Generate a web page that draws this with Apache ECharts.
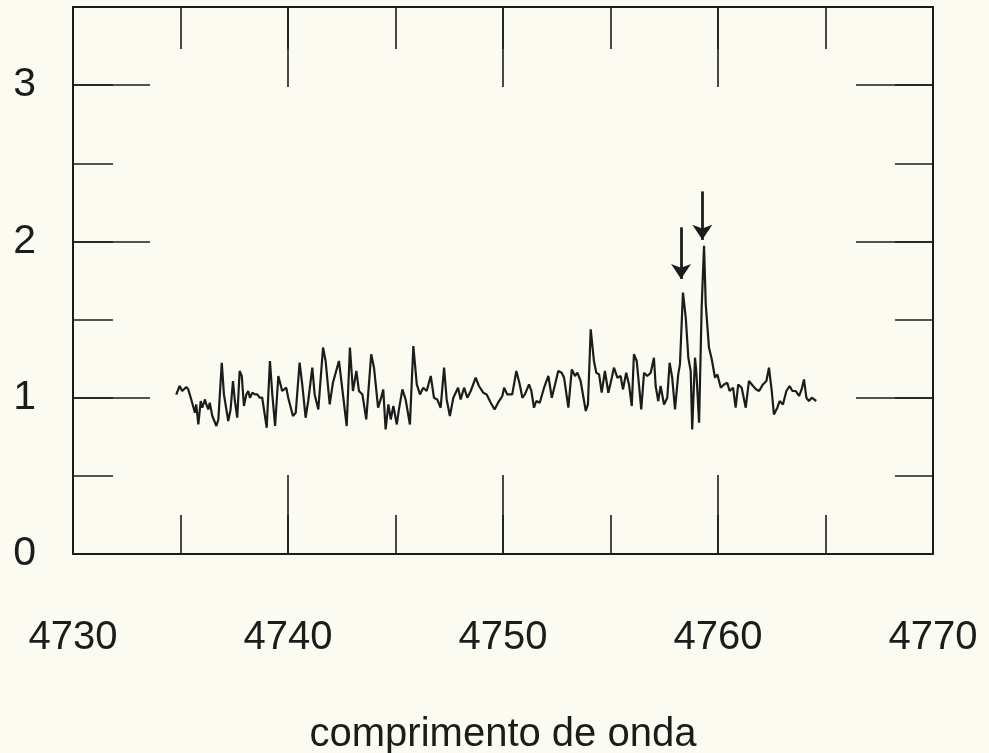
<!DOCTYPE html>
<html>
<head>
<meta charset="utf-8">
<script src="https://cdn.jsdelivr.net/npm/echarts@6/dist/echarts.min.js"></script>
<style>
html,body{margin:0;padding:0;background:#fcfbf2;}
#chart{width:989px;height:753px;}
</style>
</head>
<body>
<div id="chart"></div>
<script>
// wavelength (x) and relative intensity (y)
const wavelength = [
4734.80,4734.96,4735.08,4735.27,4735.36,4735.52,4735.67,4735.73,4735.83,4735.94,
4736.01,4736.14,4736.20,4736.29,4736.36,4736.48,4736.56,4736.67,4736.76,4736.92,
4737.02,4737.22,4737.33,4737.44,4737.53,4737.64,4737.75,4737.85,4737.95,4738.06,
4738.15,4738.23,4738.34,4738.47,4738.57,4738.68,4738.80,4739.01,4739.16,4739.27,
4739.40,4739.55,4739.73,4739.92,4740.01,4740.23,4740.36,4740.54,4740.67,4740.82,
4740.94,4741.13,4741.24,4741.41,4741.63,4741.75,4741.94,4742.09,4742.37,4742.73,
4742.88,4743.02,4743.18,4743.30,4743.46,4743.64,4743.87,4744.00,4744.19,4744.31,
4744.43,4744.54,4744.67,4744.78,4744.90,4745.06,4745.16,4745.32,4745.47,4745.67,
4745.83,4745.99,4746.14,4746.29,4746.45,4746.64,4746.79,4746.94,4747.10,4747.26,
4747.38,4747.53,4747.69,4747.91,4748.03,4748.19,4748.34,4748.50,4748.73,4748.88,
4749.08,4749.24,4749.43,4749.61,4749.77,4749.97,4750.05,4750.20,4750.43,4750.62,
4750.78,4750.90,4751.02,4751.21,4751.32,4751.44,4751.55,4751.71,4751.91,4752.11,
4752.27,4752.42,4752.57,4752.73,4752.84,4753.04,4753.20,4753.35,4753.46,4753.61,
4753.85,4753.95,4754.08,4754.23,4754.34,4754.47,4754.59,4754.74,4754.90,4755.06,
4755.16,4755.32,4755.47,4755.58,4755.73,4755.86,4755.99,4756.09,4756.22,4756.33,
4756.43,4756.56,4756.71,4756.87,4757.02,4757.10,4757.22,4757.33,4757.49,4757.64,
4757.75,4757.87,4758.00,4758.15,4758.23,4758.37,4758.50,4758.62,4758.73,4758.80,
4758.93,4758.99,4759.12,4759.24,4759.35,4759.43,4759.58,4759.71,4759.86,4759.97,
4760.13,4760.28,4760.43,4760.54,4760.70,4760.82,4760.94,4761.10,4761.29,4761.44,
4761.63,4761.78,4761.91,4762.09,4762.25,4762.37,4762.50,4762.60,4762.76,4762.87,
4763.02,4763.18,4763.33,4763.46,4763.61,4763.77,4763.89,4764.00,4764.11,4764.23,
4764.36,4764.47,4764.57
];
const intensity = [
1.02,1.075,1.043,1.069,1.053,0.979,0.904,0.957,0.829,0.979,
0.936,0.989,0.957,0.925,0.968,0.883,0.872,0.819,0.861,1.224,
1.021,0.851,0.925,1.107,0.979,0.872,1.171,1.139,0.947,1.021,
1.043,1.00,1.032,1.021,1.021,1.00,1.00,0.808,1.235,1.021,
0.819,1.139,1.043,1.064,1.00,0.883,0.904,1.224,1.075,0.872,
0.979,1.192,1.021,0.925,1.321,1.235,0.957,1.096,1.235,0.819,
1.321,1.043,1.171,1.043,1.021,0.861,1.278,1.192,0.936,0.989,
1.053,0.797,0.957,0.861,0.947,0.829,0.925,1.053,0.989,0.829,
1.331,1.085,1.021,1.064,1.043,1.139,1.00,0.989,0.936,1.192,
0.989,0.883,1.00,1.064,0.989,1.064,1.00,1.043,1.128,1.075,
1.032,1.021,0.968,0.925,0.968,1.011,1.064,1.021,1.021,1.171,
1.085,1.00,1.021,1.085,1.043,0.936,0.979,0.968,1.064,1.139,
1.00,1.085,1.171,1.160,1.128,0.936,1.181,1.139,1.160,1.107,
0.915,0.957,1.438,1.235,1.160,1.149,1.032,1.171,1.032,1.128,
1.192,1.128,1.139,1.053,1.160,1.085,0.947,1.278,1.235,1.075,
0.925,1.160,1.139,1.160,1.256,1.075,0.979,1.075,0.957,1.00,
1.224,1.128,0.925,1.149,1.213,1.673,1.513,1.256,1.171,0.797,
1.256,1.171,0.840,1.577,1.972,1.598,1.321,1.246,1.128,1.149,
1.064,1.085,1.096,1.043,1.064,0.936,1.085,1.064,0.936,1.107,
1.075,1.053,1.043,1.085,1.107,1.192,1.043,0.893,0.936,0.979,
0.957,1.043,1.075,1.043,1.043,1.011,1.053,1.117,1.00,0.979,
1.00,0.989,0.979
];
// arrows marking the two emission lines
const arrowX = [4758.28, 4759.27];
const arrowTop = [2.09, 2.32];
const arrowTip = [1.76, 2.01];

const xTickLabels = [4730, 4740, 4750, 4760, 4770];
const yTickLabels = [0, 1, 2, 3];
const xName = 'comprimento de onda';

const FONT = "'Liberation Sans', Arial, Helvetica, sans-serif";
const INK = '#1c1c1c';

const chart = echarts.init(document.getElementById('chart'), null, {renderer: 'canvas'});

function xAx(grid, pos, interval, tickLen, labels, line) {
  return {
    type: 'value', gridIndex: grid, position: pos,
    min: 4730, max: 4770, interval: interval,
    axisLine: {show: line, onZero: false, lineStyle: {color: INK, width: 2}},
    axisTick: {show: true, inside: true, length: tickLen, lineStyle: {color: INK, width: 1.6}},
    axisLabel: labels ? {
      show: true, margin: 64, fontSize: 40, color: INK, fontFamily: FONT,
      formatter: v => xTickLabels.indexOf(v) >= 0 ? String(v) : ''
    } : {show: false},
    splitLine: {show: false},
    name: labels ? xName : '',
    nameLocation: 'middle', nameGap: 161,
    nameTextStyle: {fontSize: 40, color: INK, fontFamily: FONT}
  };
}
function yAx(grid, pos, interval, tickLen, labels, line) {
  return {
    type: 'value', gridIndex: grid, position: pos,
    min: 0, max: 3.5, interval: interval,
    axisLine: {show: line, onZero: false, lineStyle: {color: INK, width: 2}},
    axisTick: {show: true, inside: true, length: tickLen, lineStyle: {color: INK, width: 1.6}},
    axisLabel: labels ? {
      show: true, margin: 37, fontSize: 41, color: INK, fontFamily: FONT,
      formatter: v => yTickLabels.indexOf(v) >= 0 ? String(v) : ''
    } : {show: false},
    splitLine: {show: false}
  };
}

const gridRect = {left: 73, right: 56, top: 7, bottom: 199, containLabel: false, outerBoundsMode: 'none'};

const lineData = wavelength.map((w, i) => [w, intensity[i]]);
const arrowData = arrowX.map((x, i) => [
  {coord: [x, arrowTop[i]]},
  {coord: [x, arrowTip[i]]}
]);

chart.setOption({
  backgroundColor: '#fcfbf2',
  animation: false,
  grid: [Object.assign({}, gridRect), Object.assign({}, gridRect)],
  xAxis: [
    xAx(0, 'bottom', 10, 79, true, true),
    xAx(0, 'top', 10, 80, false, true),
    xAx(1, 'bottom', 5, 39, false, false),
    xAx(1, 'top', 5, 42, false, false)
  ],
  yAxis: [
    yAx(0, 'left', 1, 77, true, true),
    yAx(0, 'right', 1, 77, false, true),
    yAx(1, 'left', 0.5, 40, false, false),
    yAx(1, 'right', 0.5, 38, false, false)
  ],
  series: [{
    type: 'line',
    xAxisIndex: 0, yAxisIndex: 0,
    data: lineData,
    showSymbol: false,
    symbol: 'none',
    lineStyle: {color: INK, width: 2.2},
    silent: true,
    markLine: {
      silent: true,
      symbol: ['none', 'arrow'],
      symbolSize: 15,
      label: {show: false},
      lineStyle: {color: INK, width: 2.8, type: 'solid'},
      data: arrowData
    }
  }]
});
</script>
</body>
</html>
